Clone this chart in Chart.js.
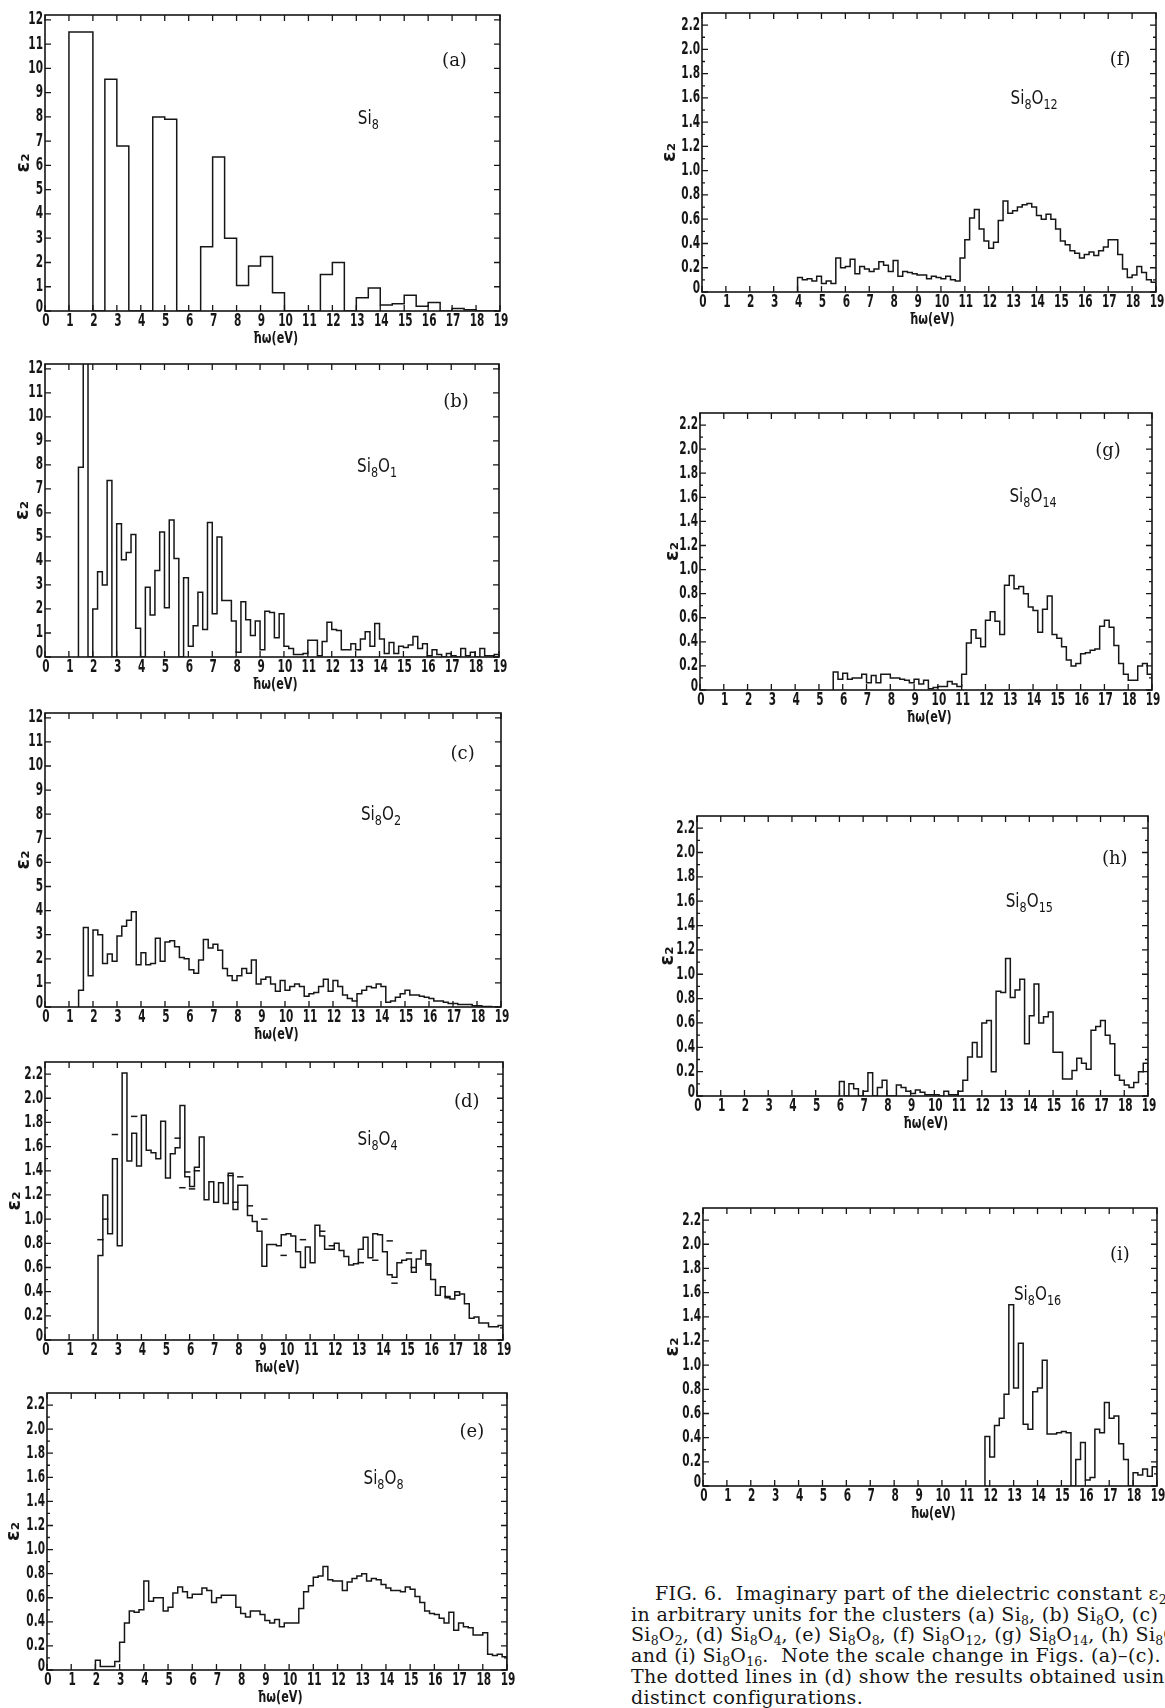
<!DOCTYPE html>
<html>
<head>
<meta charset="utf-8">
<script src="https://cdn.jsdelivr.net/npm/chart.js@4.4.1/dist/chart.umd.min.js"></script>
<style>
  html, body { margin: 0; padding: 0; background: #fff; overflow: hidden; }
  body { width: 1165px; height: 1708px; position: relative; }
  canvas { position: absolute; }
  .caption { position: absolute; left: 631px; top: 1583px; font-family: 'DejaVu Serif', serif;
             font-size: 19px; letter-spacing: 0.35px; line-height: 20.7px; color: #161616; white-space: nowrap; }
  .caption div:first-child { padding-left: 24px; }
  .caption sub { font-size: 66%; vertical-align: -0.3em; line-height: 0; letter-spacing: 0; }
</style>
</head>
<body>
<div class="caption">
  <div>FIG. 6.&nbsp; Imaginary part of the dielectric constant ε<sub>2</sub></div>
  <div>in arbitrary units for the clusters (a) Si<sub>8</sub>, (b) Si<sub>8</sub>O, (c)</div>
  <div>Si<sub>8</sub>O<sub>2</sub>, (d) Si<sub>8</sub>O<sub>4</sub>, (e) Si<sub>8</sub>O<sub>8</sub>, (f) Si<sub>8</sub>O<sub>12</sub>, (g) Si<sub>8</sub>O<sub>14</sub>, (h) Si<sub>8</sub>O<sub>15</sub>,</div>
  <div>and (i) Si<sub>8</sub>O<sub>16</sub>.&nbsp; Note the scale change in Figs. (a)–(c).</div>
  <div>The dotted lines in (d) show the results obtained using two</div>
  <div>distinct configurations.</div>
</div>
<script>
// photon energy axis, eV
const energyTicks = [0, 1, 2, 3, 4, 5, 6, 7, 8, 9, 10, 11, 12, 13, 14, 15, 16, 17, 18, 19];

// eps2 histograms, one value per energy bin
// (a) Si8 - 0.5 eV bins from 1.0 eV
const siA_start = 1.0, siA_bin = 0.5;
const siA = [11.5, 11.5, 0, 9.55, 6.8, 0, 0, 8.0, 7.9, 0, 0, 2.65, 6.35, 3.0, 1.05, 1.85, 2.25, 0.75,
  0, 0, 0, 1.5, 2.0, 0, 0.55, 0.95, 0.25, 0.3, 0.65, 0.2, 0.35, 0, 0.1, 0.05, 0, 0];

// (b) Si8O - 0.2 eV bins from 1.4 eV (second bin runs off the top)
const siB_start = 1.4, siB_bin = 0.2;
const siB = [7.9, 13, 0, 2.0, 3.55, 3.0, 7.35, 0, 5.55, 4.05,
  4.35, 5.1, 1.2, 0, 2.9, 1.75, 3.6, 5.2, 2.05, 5.7,
  4.1, 0, 3.3, 0.45, 1.3, 2.7, 1.15, 5.6, 1.8, 5.0,
  2.35, 2.35, 1.5, 0.2, 2.3, 1.55, 0.9, 1.5, 0.3, 1.9,
  1.85, 0.8, 1.8, 0.45, 0.35, 0.1, 0.1, 0.15, 0.7, 0.7,
  0.05, 0.65, 1.45, 1.15, 1.1, 0.3, 0.3, 0.55, 0.3, 0.75,
  1.05, 0.45, 1.4, 0.75, 0.15, 0.6, 0.15, 0.45, 0.4, 0.5,
  0.85, 0.35, 0.55, 0.05, 0.3, 0.1, 0, 0.15, 0.05, 0,
  0.35, 0.05, 0.2, 0, 0.35, 0.05, 0.05, 0.1];

// (c) Si8O2
const siC_start = 1.4, siC_bin = 0.2;
const siC = [0.7, 3.3, 1.3, 3.2, 3.0, 1.8, 2.2, 1.9, 2.95, 3.35,
  3.6, 3.95, 1.75, 2.25, 1.75, 1.8, 2.85, 1.9, 2.7, 2.75,
  2.5, 2.05, 2.0, 1.55, 1.4, 1.95, 2.8, 2.45, 2.6, 2.35,
  1.6, 1.3, 1.1, 1.3, 1.6, 1.4, 1.95, 0.95, 1.15, 1.25,
  0.95, 0.65, 1.1, 0.7, 0.85, 0.95, 0.85, 0.45, 0.55, 0.6,
  0.85, 1.15, 0.65, 1.1, 0.85, 0.5, 0.35, 0.25, 0.55, 0.7,
  0.85, 0.8, 0.95, 0.85, 0.2, 0.25, 0.4, 0.55, 0.7, 0.5,
  0.5, 0.45, 0.4, 0.35, 0.25, 0.25, 0.2, 0.15, 0.15, 0.1,
  0.1, 0.1, 0.05, 0.05, 0.02, 0.02, 0, 0];

// (d) Si8O4
const siD_start = 2.2, siD_bin = 0.2;
const siD = [0.70, 1.20, 0.88, 1.50, 0.78, 2.21, 1.48, 1.71, 1.44, 1.86,
  1.57, 1.55, 1.50, 1.81, 1.34, 1.54, 1.59, 1.94, 1.35, 1.27,
  1.43, 1.68, 1.16, 1.31, 1.14, 1.30, 1.13, 1.38, 1.08, 1.28,
  1.28, 1.03, 0.98, 0.90, 0.61, 0.79, 0.79, 0.78, 0.87, 0.88,
  0.86, 0.73, 0.60, 0.77, 0.64, 0.95, 0.86, 0.75, 0.75, 0.80,
  0.74, 0.69, 0.62, 0.63, 0.75, 0.85, 0.68, 0.88, 0.87, 0.73,
  0.54, 0.52, 0.64, 0.66, 0.67, 0.56, 0.67, 0.74, 0.63, 0.50,
  0.37, 0.44, 0.35, 0.34, 0.40, 0.38, 0.30, 0.18, 0.19, 0.14,
  0.14, 0.11, 0.11, 0.12];
// (d) second configuration, short dashes at bin centres
const siD_altX = [2.3, 2.5, 2.9, 3.7, 5.5, 5.7, 5.9, 6.1, 6.3, 7.7, 7.9, 8.1, 8.5, 9.1, 9.9, 10.7,
  11.5, 11.9, 13.1, 13.7, 14.3, 14.5, 15.1, 15.3, 15.9, 16.7, 17.1];
const siD_altY = [0.83, 1.0, 1.70, 1.85, 1.67, 1.26, 1.39, 1.25, 1.40, 1.36, 1.14, 1.35, 1.11, 1.0, 0.70, 0.83,
  0.90, 0.78, 0.64, 0.66, 0.82, 0.47, 0.72, 0.60, 0.62, 0.36, 0.37];

// (e) Si8O8
const siE_start = 2.0, siE_bin = 0.2;
const siE = [0.08, 0.03, 0.03, 0.03, 0.07, 0.23, 0.39, 0.49, 0.48, 0.50,
  0.74, 0.57, 0.60, 0.60, 0.49, 0.52, 0.64, 0.69, 0.65, 0.60,
  0.63, 0.63, 0.68, 0.66, 0.56, 0.60, 0.62, 0.62, 0.62, 0.52,
  0.47, 0.44, 0.49, 0.49, 0.46, 0.41, 0.39, 0.42, 0.36, 0.39,
  0.39, 0.39, 0.51, 0.65, 0.70, 0.77, 0.78, 0.86, 0.75, 0.74,
  0.74, 0.66, 0.73, 0.76, 0.78, 0.80, 0.74, 0.76, 0.75, 0.71,
  0.68, 0.66, 0.66, 0.65, 0.69, 0.67, 0.61, 0.56, 0.49, 0.47,
  0.46, 0.43, 0.39, 0.48, 0.33, 0.39, 0.36, 0.35, 0.29, 0.29,
  0.31, 0.13, 0.12, 0.13, 0.11];

// (f) Si8O12
const siF_start = 4.0, siF_bin = 0.2;
const siF = [0.12, 0.10, 0.11, 0.09, 0.13, 0.07, 0.09, 0.07, 0.28, 0.20,
  0.21, 0.27, 0.15, 0.21, 0.19, 0.17, 0.19, 0.25, 0.22, 0.17,
  0.26, 0.13, 0.17, 0.16, 0.15, 0.14, 0.14, 0.11, 0.13, 0.12,
  0.11, 0.13, 0.10, 0.09,
  0.28, 0.43, 0.61, 0.68, 0.52, 0.42, 0.36, 0.41, 0.59, 0.75,
  0.65, 0.67, 0.70, 0.72, 0.73, 0.70, 0.63, 0.60, 0.64, 0.60,
  0.52, 0.42, 0.39, 0.34, 0.32, 0.28, 0.31, 0.33, 0.30, 0.34,
  0.37, 0.43, 0.43, 0.31, 0.19, 0.12, 0.14, 0.21, 0.16, 0.10,
  0.08];

// (g) Si8O14
const siG_start = 5.6, siG_bin = 0.2;
const siG = [0.15, 0.09, 0.14, 0.09, 0.10, 0.10, 0.13, 0.06, 0.12, 0.06,
  0.13, 0.13, 0.10, 0.10, 0.09, 0.08, 0.06, 0.09, 0.05, 0.08,
  0.01, 0.02, 0.03, 0.03, 0.07, 0.05, 0.03,
  0.13, 0.39, 0.50, 0.43, 0.36, 0.58, 0.65, 0.57, 0.46, 0.87,
  0.95, 0.84, 0.86, 0.80, 0.69, 0.66, 0.48, 0.67, 0.78, 0.46,
  0.43, 0.36, 0.25, 0.20, 0.22, 0.30, 0.31, 0.33, 0.34, 0.53,
  0.58, 0.52, 0.37, 0.22, 0.13, 0.08, 0.08, 0.20, 0.22, 0.13];

// (h) Si8O15
const siH_start = 6.0, siH_bin = 0.2;
const siH = [0.12, 0, 0.10, 0.06, 0, 0.04, 0.19, 0, 0.07, 0.13,
  0, 0, 0.09, 0.07, 0.04, 0.02, 0.05, 0.03, 0.01, 0.01,
  0.01, 0, 0.04, 0.01, 0.01,
  0.04, 0.13, 0.32, 0.44, 0.32, 0.60, 0.62, 0.20, 0.86, 0.85,
  1.13, 0.81, 0.87, 0.96, 0.43, 0.66, 0.92, 0.60, 0.65, 0.69,
  0.36, 0.36, 0.14, 0.14, 0.21, 0.31, 0.27, 0.22, 0.54, 0.57,
  0.62, 0.50, 0.43, 0.17, 0.13, 0.09, 0.07, 0.11, 0.20, 0.27];

// (i) Si8O16
const siI_start = 11.8, siI_bin = 0.2;
const siI = [0.41, 0.24, 0.50, 0.56, 0.76, 1.50, 0.81, 1.18, 0.51, 0.47,
  0.78, 0.81, 1.04, 0.43, 0.43, 0.44, 0.45, 0.44, 0.00, 0.22,
  0.36, 0.05, 0.07, 0.47, 0.44, 0.69, 0.56, 0.58, 0.35, 0.22,
  0.00, 0.11, 0.09, 0.14, 0.08, 0.16];

const ink = '#161616';
const sans = "'DejaVu Sans', sans-serif";

// page layout: plot box [left, top, right, bottom] and where the eps2 title sits
const panels = [
  { tag: '(a)', f: ['Si', '8'], start: siA_start, bin: siA_bin, vals: siA, big: true,
    box: [45, 15, 500, 311], titleX: 24, tagAt: [17.1, 10.3], fAt: [13.5, 8.0] },
  { tag: '(b)', f: ['Si', '8', 'O', '1'], start: siB_start, bin: siB_bin, vals: siB, big: true,
    box: [45, 364, 499, 657], titleX: 23, tagAt: [17.2, 10.6], fAt: [13.9, 8.0] },
  { tag: '(c)', f: ['Si', '8', 'O', '2'], start: siC_start, bin: siC_bin, vals: siC, big: true,
    box: [45, 713, 501, 1007], titleX: 24, tagAt: [17.4, 10.5], fAt: [14.0, 8.05] },
  { tag: '(d)', f: ['Si', '8', 'O', '4'], start: siD_start, bin: siD_bin, vals: siD, alt: [siD_altX, siD_altY],
    box: [45, 1062, 503, 1340], titleX: 15, tagAt: [17.5, 1.97], fAt: [13.8, 1.67] },
  { tag: '(e)', f: ['Si', '8', 'O', '8'], start: siE_start, bin: siE_bin, vals: siE,
    box: [47, 1393, 507, 1670], titleX: 14, tagAt: [17.55, 1.97], fAt: [13.9, 1.6] },
  { tag: '(f)', f: ['Si', '8', 'O', '12'], start: siF_start, bin: siF_bin, vals: siF,
    box: [702, 13, 1156, 292], titleX: 670, tagAt: [17.5, 1.91], fAt: [13.9, 1.61] },
  { tag: '(g)', f: ['Si', '8', 'O', '14'], start: siG_start, bin: siG_bin, vals: siG,
    box: [700, 413, 1152, 690], titleX: 673, tagAt: [17.15, 1.98], fAt: [14.0, 1.62] },
  { tag: '(h)', f: ['Si', '8', 'O', '15'], start: siH_start, bin: siH_bin, vals: siH,
    box: [697, 816, 1148, 1096], titleX: 668, tagAt: [17.6, 1.94], fAt: [14.0, 1.61] },
  { tag: '(i)', f: ['Si', '8', 'O', '16'], start: siI_start, bin: siI_bin, vals: siI,
    box: [703, 1208, 1157, 1486], titleX: 673, tagAt: [17.45, 1.91], fAt: [14.0, 1.6] },
];

// histogram outline as a stepped line: each value holds across its bin
function steps(start, bin, vals) {
  const pts = [{ x: start, y: 0 }];
  vals.forEach((v, i) => pts.push({ x: start + i * bin, y: v }));
  pts.push({ x: start + vals.length * bin, y: 0 });
  return pts;
}

// the lettering on the figure is a narrow stencil face; squeeze DejaVu to match
function narrowText(ctx, text, x, y, sx, align, baseline) {
  ctx.save();
  ctx.translate(x, y);
  ctx.scale(sx, 1);
  ctx.textAlign = align;
  ctx.textBaseline = baseline || 'middle';
  ctx.fillText(text, 0, 0);
  ctx.restore();
}

function drawFormula(ctx, parts, cx, cy) {
  const sx = 0.8;
  const big = '19px ' + sans, small = '14px ' + sans;
  let w = 0;
  parts.forEach((s, i) => { ctx.font = i % 2 ? small : big; w += ctx.measureText(s).width * sx; });
  let x = cx - w / 2;
  parts.forEach((s, i) => {
    ctx.font = i % 2 ? small : big;
    narrowText(ctx, s, x, cy + 7 + (i % 2 ? 5 : 0), sx, 'left', 'alphabetic');
    x += ctx.measureText(s).width * sx;
  });
}

// box, inward tick marks, tick labels, axis titles and the panel labels
const frame = {
  id: 'frame',
  afterDraw(chart, args, o) {
    const { ctx, chartArea: a, scales: { x, y } } = chart;
    ctx.save();
    ctx.strokeStyle = ink;
    ctx.lineWidth = 1.6;
    ctx.strokeRect(a.left, a.top, a.right - a.left, a.bottom - a.top);
    ctx.lineWidth = 1.3;
    ctx.beginPath();
    x.ticks.forEach(t => {
      const px = x.getPixelForValue(t.value);
      ctx.moveTo(px, a.bottom); ctx.lineTo(px, a.bottom - 6);
      ctx.moveTo(px, a.top); ctx.lineTo(px, a.top + 6);
    });
    y.ticks.forEach(t => {
      const py = y.getPixelForValue(t.value);
      ctx.moveTo(a.left, py); ctx.lineTo(a.left + 6, py);
      ctx.moveTo(a.right, py); ctx.lineTo(a.right - 6, py);
    });
    if (o.minor) {
      for (let k = 0; (2 * k + 1) * o.minor < y.max; k++) {
        const py = y.getPixelForValue((2 * k + 1) * o.minor);
        ctx.moveTo(a.left, py); ctx.lineTo(a.left + 3, py);
        ctx.moveTo(a.right, py); ctx.lineTo(a.right - 3, py);
      }
    }
    ctx.stroke();

    ctx.fillStyle = ink;
    ctx.font = 'bold 17px ' + sans;
    x.ticks.forEach(t => {
      narrowText(ctx, String(t.value), x.getPixelForValue(t.value) + 1, a.bottom + 11, 0.62, 'center');
    });
    y.ticks.forEach(t => {
      const v = t.value;
      const s = o.big ? String(Math.round(v)) : (v < 1e-6 ? '0' : v.toFixed(1));
      narrowText(ctx, s, a.left - 2, y.getPixelForValue(v) - (v < 1e-6 ? 3 : 0), 0.62, 'right');
    });
    ctx.font = 'bold 16px ' + sans;
    narrowText(ctx, 'ħω(eV)', (a.left + a.right) / 2 + 3, a.bottom + 28, 0.7, 'center');

    ctx.save();
    ctx.translate(o.titleX, (a.top + a.bottom) / 2);
    ctx.rotate(-Math.PI / 2);
    ctx.font = 'bold 19px ' + sans;
    ctx.textAlign = 'center';
    ctx.textBaseline = 'middle';
    ctx.fillText('ε₂', 0, 0);
    ctx.restore();

    ctx.font = "18px 'DejaVu Serif', serif";
    ctx.textAlign = 'center';
    ctx.textBaseline = 'middle';
    ctx.fillText(o.tag, x.getPixelForValue(o.tagAt[0]), y.getPixelForValue(o.tagAt[1]));
    drawFormula(ctx, o.f, x.getPixelForValue(o.fAt[0]), y.getPixelForValue(o.fAt[1]));
    ctx.restore();
  }
};

const padTop = 6, padRight = 12, padLeft = 40, xAxisH = 40;

panels.forEach(p => {
  const [L, T, R, B] = p.box;
  const cv = document.createElement('canvas');
  const W = padLeft + (R - L) + padRight;
  const H = padTop + (B - T) + xAxisH;
  cv.width = W; cv.height = H;
  cv.style.left = (L - padLeft) + 'px';
  cv.style.top = (T - padTop) + 'px';
  cv.style.width = W + 'px'; cv.style.height = H + 'px';
  document.body.appendChild(cv);

  const yMax = p.big ? 12.2 : 2.3;
  const yTop = p.big ? 12 : 2.2;
  const datasets = [{
    data: steps(p.start, p.bin, p.vals),
    stepped: 'before',
    borderColor: ink,
    borderWidth: 1.5,
    pointRadius: 0,
    fill: false,
    borderJoinStyle: 'miter'
  }];
  if (p.alt) {
    datasets.push({
      data: p.alt[0].map((v, i) => ({ x: v, y: p.alt[1][i] })),
      showLine: false,
      pointStyle: 'line',
      pointRadius: 3.2,
      pointBorderWidth: 1.5,
      pointBorderColor: ink,
      borderColor: ink
    });
  }

  new Chart(cv, {
    type: 'line',
    data: { datasets },
    options: {
      responsive: false,
      animation: false,
      devicePixelRatio: 1,
      events: [],
      layout: { padding: { top: padTop, right: padRight, left: 0, bottom: 0 } },
      plugins: {
        legend: { display: false },
        tooltip: { enabled: false },
        frame: { tag: p.tag, f: p.f, tagAt: p.tagAt, fAt: p.fAt, big: !!p.big,
                 minor: p.big ? 0 : 0.1, titleX: p.titleX - (L - padLeft) }
      },
      scales: {
        x: {
          type: 'linear', min: 0, max: 19, bounds: 'data',
          afterBuildTicks: s => { s.ticks = energyTicks.map(v => ({ value: v })); },
          afterFit: s => { s.height = xAxisH; },
          grid: { display: false, drawTicks: false },
          border: { display: false },
          ticks: { display: false }
        },
        y: {
          type: 'linear', min: 0, max: yMax, bounds: 'data',
          afterBuildTicks: s => { s.ticks = s.ticks.filter(t => t.value <= yTop + 1e-6); },
          afterFit: s => { s.width = padLeft; },
          grid: { display: false, drawTicks: false },
          border: { display: false },
          ticks: { display: false, stepSize: p.big ? 1 : 0.2, includeBounds: false }
        }
      }
    },
    plugins: [frame]
  });
});
</script>
</body>
</html>
